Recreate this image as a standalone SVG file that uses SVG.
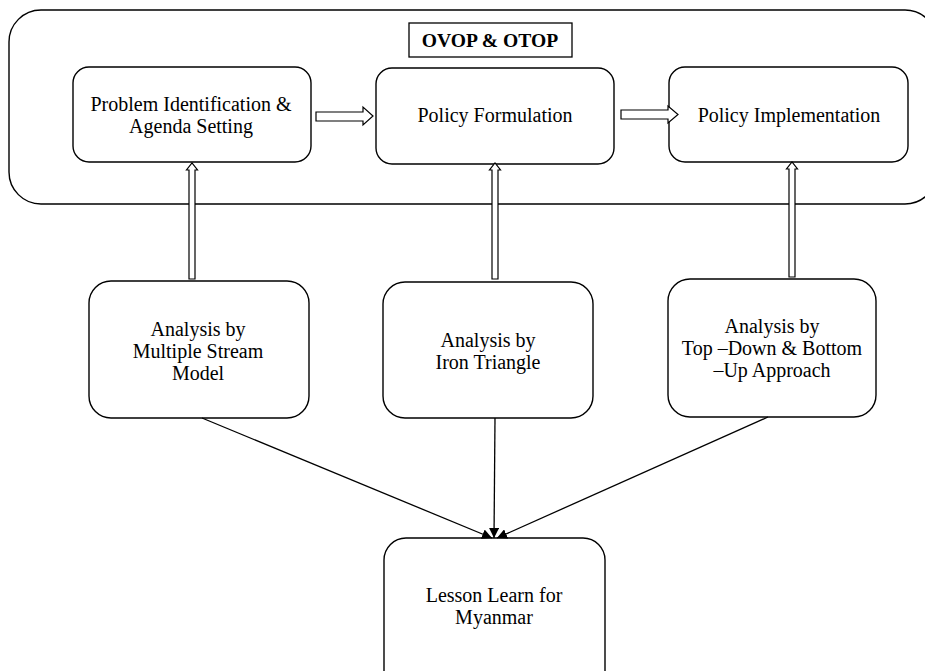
<svg xmlns="http://www.w3.org/2000/svg" width="925" height="671" viewBox="0 0 925 671">
<style>
.box{fill:#fff;stroke:#000;stroke-width:1.4}
.t{font-family:"Liberation Serif","Times New Roman",serif;font-size:20px;fill:#000;text-anchor:middle}
.b{font-weight:bold;font-size:19.6px}
.hol{fill:#fff;stroke:#000;stroke-width:1.2;stroke-linejoin:miter}
.ln{fill:none;stroke:#000;stroke-width:1.3}
</style>
<defs>
<marker id="ah" viewBox="0 0 10 10" refX="10" refY="5" markerWidth="10" markerHeight="10" markerUnits="userSpaceOnUse" orient="auto">
<path d="M0,0 L10,5 L0,10 z" fill="#000"/>
</marker>
</defs>
<rect width="925" height="671" fill="#fff"/>
<g id="container">
<rect class="box" x="9" y="10" width="928" height="194" rx="32"/>
</g>
<g id="title">
<rect x="409" y="23" width="163" height="34" fill="#fff" stroke="#000" stroke-width="1.3"/>
<text class="t b" x="490" y="47">OVOP &amp; OTOP</text>
</g>
<g id="n1">
<rect class="box" x="73" y="67" width="238" height="95" rx="16"/>
<text class="t" x="191" y="111">Problem Identification &amp;</text>
<text class="t" x="191" y="133">Agenda Setting</text>
</g>
<g id="n2">
<rect class="box" x="376" y="68" width="238" height="96" rx="16"/>
<text class="t" x="495" y="122">Policy Formulation</text>
</g>
<g id="n3">
<rect class="box" x="669" y="67" width="239" height="95" rx="16"/>
<text class="t" x="789" y="122">Policy Implementation</text>
</g>
<g id="n4">
<rect class="box" x="89" y="281" width="220" height="137" rx="22"/>
<text class="t" x="198" y="336">Analysis by</text>
<text class="t" x="198" y="358">Multiple Stream</text>
<text class="t" x="198" y="380">Model</text>
</g>
<g id="n5">
<rect class="box" x="383" y="282" width="210" height="136" rx="22"/>
<text class="t" x="488" y="347">Analysis by</text>
<text class="t" x="488" y="369">Iron Triangle</text>
</g>
<g id="n6">
<rect class="box" x="668" y="279" width="208" height="138" rx="22"/>
<text class="t" x="772" y="333">Analysis by</text>
<text class="t" x="772" y="355">Top –Down &amp; Bottom</text>
<text class="t" x="772" y="377">–Up Approach</text>
</g>
<g id="n7">
<rect class="box" x="384" y="538" width="221" height="160" rx="22"/>
<text class="t" x="494" y="602">Lesson Learn for</text>
<text class="t" x="494" y="624">Myanmar</text>
</g>
<g id="connectors">
<polygon class="hol" points="316,112 363,112 363,107 373,116 363,125 363,121 316,121"/>
<polygon class="hol" points="621,110 668,110 668,106 678,114.5 668,123 668,119 621,119"/>
<polygon class="hol" points="189,279 189,170 186.5,170 192,163 197.5,170 195,170 195,279"/>
<polygon class="hol" points="492,279 492,170 489.5,170 495,163 500.5,170 498,170 498,279"/>
<polygon class="hol" points="789,277 789,169 786.5,169 792,162 797.5,169 795,169 795,277"/>
<line class="ln" x1="202" y1="418" x2="492" y2="538" marker-end="url(#ah)"/>
<line class="ln" x1="495" y1="418" x2="494" y2="538" marker-end="url(#ah)"/>
<line class="ln" x1="768" y1="417" x2="497" y2="538" marker-end="url(#ah)"/>
</g>
</svg>
